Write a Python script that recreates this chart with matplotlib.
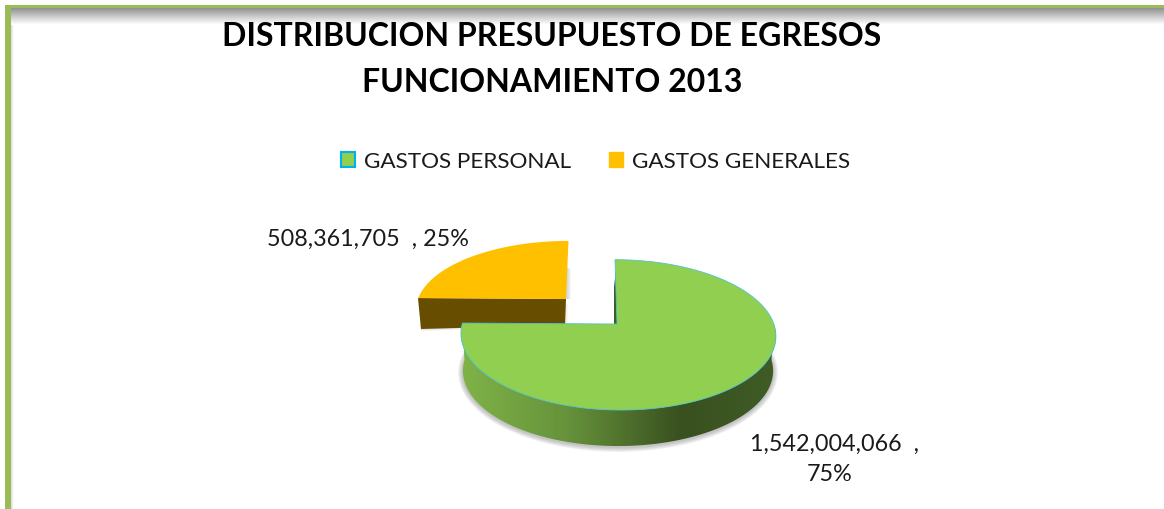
import numpy as np
import matplotlib
matplotlib.use('Agg')
import matplotlib.pyplot as plt
from matplotlib.colors import LinearSegmentedColormap
from matplotlib.patches import Patch, Polygon

plt.rcParams['font.family'] = ['Lato', 'DejaVu Sans']

title_lines = ['DISTRIBUCION PRESUPUESTO DE EGRESOS', 'FUNCIONAMIENTO 2013']
categories = ['GASTOS PERSONAL', 'GASTOS GENERALES']
values = [1542004066, 508361705]
colors = ['#90CF50', '#FFC000']

total = sum(values)
pct = [round(100 * v / total) for v in values]
# pie starts at 12 o'clock, green runs clockwise and orange fills the rest
sweep = [360 * v / total for v in values]

fig = plt.figure(figsize=(11.64, 5.10), dpi=100, facecolor='white')
ax = fig.add_axes([0, 0, 1, 1])


def project(deg, cx, cy, rx, ry, k=0.1446, shear=0):
    # circle seen in perspective
    t = np.radians(deg)
    u, v = np.cos(t), np.sin(t)
    d = 1 + k * v
    return cx + rx * u / d + shear * v, cy - ry * v / d


# page frame and its shadow
top_shadow = np.linspace(0.5, 1, 20).reshape(-1, 1) ** 0.8
ax.imshow(top_shadow, cmap='gray', vmin=0, vmax=1, extent=(10, 1164, 26, 9), aspect='auto', zorder=1)
left_shadow = np.linspace(0.8, 1, 6).reshape(1, -1)
ax.imshow(left_shadow, cmap='gray', vmin=0, vmax=1, extent=(10, 14, 510, 26), aspect='auto', zorder=1)
ax.fill_between([5, 1164], 6, 9, color='#9BBB59', lw=0, zorder=2)
ax.fill_between([5, 10.5], 6, 510, color='#9BBB59', lw=0, zorder=2)

# orange slice, pulled out
o = dict(cx=567, cy=300, rx=149, ry=66.5, shear=1.5)
ang = np.linspace(90, 90 + sweep[1], 80)
ox, oy = project(ang, **o)
for i in range(4):
    ax.fill([419, 565 + i, 565 + i, 421], [305, 305, 326, 330.5 + i * 0.6],
            color='#808080', alpha=0.06, lw=0, zorder=3)
    ax.fill([566, 568 + i, 568 + i, 566], [268, 268 + i, 300, 300], color='#808080', alpha=0.08, lw=0, zorder=3)
ax.fill([418, 566, 565, 421], [299, 300, 326, 330], color='#664D00', lw=0, zorder=4)
ax.fill(np.r_[566, ox], np.r_[300, oy], color=colors[1], lw=0, zorder=5)

# green slice
g = dict(cx=618, cy=325, rx=155.8, ry=73.6, shear=-3)
side_ang = np.linspace(180, 360, 120)
tx, ty = project(side_ang, **g)
b = dict(g, rx=g['rx'] * 0.985, cy=g['cy'] + 36, shear=0)
bx, by = project(side_ang, **b)

for i in range(6, 0, -1):
    sx, sy = project(np.linspace(170, 370, 120), **dict(b, rx=b['rx'] + i * 0.8, ry=b['ry'] + i * 0.7, cy=b['cy'] + 1))
    ax.fill(sx, sy, color='#606060', alpha=0.07, lw=0, zorder=6)

side = Polygon(np.c_[np.r_[tx, bx[::-1]], np.r_[ty, by[::-1]]], closed=True, fc='none', ec='none', transform=ax.transData)
ax.add_patch(side)
side_cmap = LinearSegmentedColormap.from_list('side', [(0, '#7FB347'), (0.34, '#66923B'), (0.7, '#39501F'), (1, '#3F5C26')])
grad = np.linspace(0, 1, 320).reshape(1, -1)
im = ax.imshow(grad, cmap=side_cmap, extent=(461, 776, 450, 320), aspect='auto', zorder=7)
im.set_clip_path(side)

ax.fill([617, 617, 614, 614], [262, 325, 325, 288], color='#3F5C26', lw=0, zorder=7)

ang = np.linspace(90, 90 - sweep[0], 300)
gx, gy = project(ang, **g)
ax.fill(np.r_[617, gx], np.r_[325, gy], fc=colors[0], ec='#4FC3D0', lw=0.6, zorder=8)

# text
ax.text(552, 37, title_lines[0], ha='center', va='center', fontsize=23, fontweight='bold', color='#000000', zorder=10)
ax.text(552, 83, title_lines[1], ha='center', va='center', fontsize=23, fontweight='bold', color='#000000', zorder=10)

handles = [Patch(fc=colors[0], ec='#00B0F0', lw=1.5), Patch(fc=colors[1], ec=colors[1], lw=1)]
leg = ax.legend(handles, categories, ncol=2, loc='center', bbox_to_anchor=(595.5, 162), bbox_transform=ax.transData,
                frameon=False, fontsize=16.2, handlelength=0.65, handleheight=0.65, handletextpad=0.4, columnspacing=1.66,
                labelcolor='#1a1a1a')
leg.set_zorder(10)

ax.text(368, 239, f'{values[1]:,}  , {pct[1]}%', ha='center', va='center', fontsize=16.8, color='#1a1a1a', zorder=10)
ax.text(834, 444, f'{values[0]:,}  ,', ha='center', va='center', fontsize=16.8, color='#1a1a1a', zorder=10)
ax.text(830, 475, f'{pct[0]}%', ha='center', va='center', fontsize=16.8, color='#1a1a1a', zorder=10)

ax.set_xlim(0, 1164)
ax.set_ylim(510, 0)
ax.axis('off')

fig.savefig('out.png', dpi=100)
